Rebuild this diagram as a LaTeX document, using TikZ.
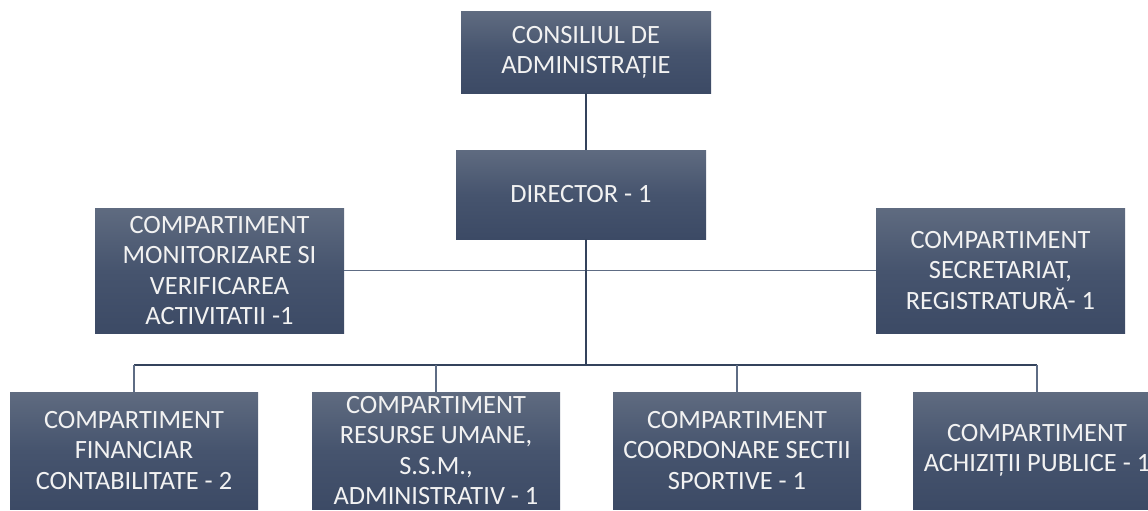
\documentclass[tikz,border=0pt]{standalone}
\usepackage{fontspec}
\setmainfont{Carlito}
\definecolor{boxtop}{HTML}{5F6B80}
\definecolor{boxmid}{HTML}{46546E}
\definecolor{boxbot}{HTML}{3C4A65}
\definecolor{txt}{HTML}{F2F2F2}
\definecolor{lndark}{HTML}{34435C}
\definecolor{lnlight}{HTML}{5E6C84}
\begin{document}
\begin{tikzpicture}[x=0.75pt,y=-0.75pt,
  box/.style={rectangle, inner sep=0pt, top color=boxtop, bottom color=boxbot, middle color=boxmid,
    text=txt, align=center, font=\fontsize{19.8pt}{22.9pt}\selectfont},
  topbox/.style={box, minimum width=187.5pt, minimum height=60.75pt},
  dirbox/.style={box, minimum width=187.5pt, minimum height=66.75pt},
  sidebox/.style={box, minimum width=186.75pt, minimum height=93.75pt},
  lowbox/.style={box, minimum width=186pt, minimum height=87.75pt},
  mainline/.style={draw=lndark, line width=1.6pt},
  sideline/.style={draw=lnlight, line width=1.1pt},
  dropline/.style={draw=lnlight, line width=0.8pt}]
\useasboundingbox (0,0) rectangle (1148,510);
\node[topbox] (top) at (586,52.5) {CONSILIUL DE\\ADMINISTRAȚIE};
\node[dirbox] (dir) at (581,194.5) {DIRECTOR - 1};
\node[sidebox] (mon) at (219.5,270.5) {COMPARTIMENT\\MONITORIZARE SI\\VERIFICAREA\\ACTIVITATII -1};
\node[sidebox] (sec) at (1000.5,270.5) {COMPARTIMENT\\SECRETARIAT,\\REGISTRATURĂ- 1};
\node[lowbox] (b1) at (134,450.5) {COMPARTIMENT\\FINANCIAR\\CONTABILITATE - 2};
\node[lowbox] (b2) at (436,450.5) {COMPARTIMENT\\RESURSE UMANE,\\S.S.M.,\\ADMINISTRATIV - 1};
\node[lowbox] (b3) at (737,450.5) {COMPARTIMENT\\COORDONARE SECTII\\SPORTIVE - 1};
\node[lowbox] (b4) at (1037,450.5) {COMPARTIMENT\\ACHIZIȚII PUBLICE - 1};
\coordinate (hub) at (585.7,365);
\draw[sideline] (mon.east) -- (sec.west);
\draw[mainline] (top.south -| hub) -- (dir.north -| hub);
\draw[mainline] (dir.south -| hub) -- (hub);
\draw[mainline] (b1.north |- hub) -- (b4.north |- hub);
\foreach \b in {b1,b2,b3,b4} \draw[dropline] (\b.north |- hub) -- (\b.north);
\end{tikzpicture}
\end{document}
